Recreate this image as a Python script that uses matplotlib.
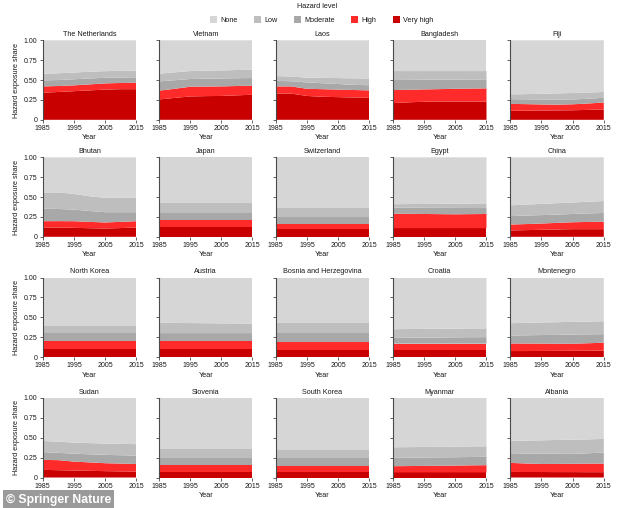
import matplotlib
matplotlib.use("Agg")
import matplotlib.pyplot as plt
from matplotlib.patches import Patch
import numpy as np

plt.rcParams['font.family'] = ['Liberation Sans', 'DejaVu Sans']

years = [1985, 1990, 1995, 2000, 2005, 2010, 2015]
countries = ["The Netherlands", "Vietnam", "Laos", "Bangladesh", "Fiji",
             "Bhutan", "Japan", "Switzerland", "Egypt", "China",
             "North Korea", "Austria", "Bosnia and Herzegovina", "Croatia", "Montenegro",
             "Sudan", "Slovenia", "South Korea", "Myanmar", "Albania"]
levels = ["None", "Low", "Moderate", "High", "Very high"]
level_colors = ["#d6d6d6", "#bebebe", "#a8a8a8", "#ff2a2a", "#c80000"]

very_high = [
    [0.34, 0.35, 0.36, 0.37, 0.38, 0.385, 0.385],
    [0.256, 0.275, 0.294, 0.298, 0.30, 0.308, 0.315],
    [0.33, 0.33, 0.30, 0.29, 0.285, 0.28, 0.276],
    [0.21, 0.22, 0.227, 0.229, 0.23, 0.23, 0.23],
    [0.113, 0.115, 0.116, 0.118, 0.12, 0.125, 0.13],
    [0.117, 0.116, 0.113, 0.108, 0.104, 0.11, 0.117],
    [0.12, 0.12, 0.12, 0.12, 0.12, 0.12, 0.12],
    [0.10, 0.10, 0.10, 0.10, 0.10, 0.10, 0.10],
    [0.108, 0.108, 0.108, 0.108, 0.108, 0.108, 0.108],
    [0.08, 0.084, 0.088, 0.092, 0.096, 0.096, 0.096],
    [0.10, 0.10, 0.10, 0.10, 0.10, 0.10, 0.10],
    [0.10, 0.10, 0.10, 0.10, 0.10, 0.10, 0.10],
    [0.083, 0.083, 0.083, 0.083, 0.083, 0.083, 0.083],
    [0.083, 0.083, 0.083, 0.083, 0.083, 0.083, 0.083],
    [0.075, 0.075, 0.076, 0.077, 0.078, 0.079, 0.08],
    [0.096, 0.092, 0.088, 0.084, 0.08, 0.077, 0.075],
    [0.075, 0.075, 0.075, 0.075, 0.075, 0.075, 0.075],
    [0.07, 0.07, 0.07, 0.07, 0.07, 0.07, 0.07],
    [0.063, 0.063, 0.063, 0.063, 0.063, 0.063, 0.063],
    [0.07, 0.069, 0.069, 0.068, 0.068, 0.067, 0.067],
]
high = [
    [0.08, 0.075, 0.073, 0.075, 0.078, 0.078, 0.081],
    [0.11, 0.115, 0.122, 0.12, 0.12, 0.117, 0.115],
    [0.09, 0.09, 0.09, 0.095, 0.095, 0.095, 0.094],
    [0.164, 0.158, 0.155, 0.157, 0.16, 0.163, 0.165],
    [0.087, 0.082, 0.077, 0.072, 0.075, 0.08, 0.088],
    [0.079, 0.081, 0.083, 0.08, 0.076, 0.078, 0.079],
    [0.09, 0.09, 0.09, 0.09, 0.09, 0.09, 0.09],
    [0.066, 0.066, 0.066, 0.066, 0.066, 0.066, 0.066],
    [0.182, 0.181, 0.179, 0.177, 0.175, 0.177, 0.179],
    [0.074, 0.076, 0.079, 0.083, 0.087, 0.091, 0.094],
    [0.10, 0.10, 0.10, 0.10, 0.10, 0.10, 0.10],
    [0.10, 0.10, 0.10, 0.10, 0.10, 0.10, 0.10],
    [0.107, 0.107, 0.107, 0.107, 0.107, 0.107, 0.107],
    [0.084, 0.084, 0.084, 0.084, 0.084, 0.084, 0.084],
    [0.095, 0.094, 0.092, 0.09, 0.089, 0.094, 0.10],
    [0.126, 0.126, 0.112, 0.106, 0.10, 0.098, 0.095],
    [0.085, 0.085, 0.085, 0.085, 0.085, 0.085, 0.085],
    [0.076, 0.076, 0.076, 0.076, 0.076, 0.076, 0.076],
    [0.079, 0.081, 0.083, 0.085, 0.087, 0.09, 0.092],
    [0.114, 0.107, 0.101, 0.103, 0.104, 0.107, 0.108],
]
moderate = [
    [0.076, 0.075, 0.077, 0.075, 0.07, 0.069, 0.068],
    [0.117, 0.108, 0.097, 0.099, 0.10, 0.098, 0.095],
    [0.07, 0.065, 0.08, 0.075, 0.07, 0.065, 0.065],
    [0.126, 0.124, 0.122, 0.119, 0.116, 0.114, 0.113],
    [0.06, 0.061, 0.063, 0.065, 0.061, 0.06, 0.059],
    [0.158, 0.153, 0.146, 0.137, 0.13, 0.122, 0.114],
    [0.09, 0.09, 0.09, 0.09, 0.09, 0.09, 0.09],
    [0.084, 0.084, 0.084, 0.084, 0.084, 0.084, 0.084],
    [0.077, 0.077, 0.078, 0.079, 0.08, 0.077, 0.075],
    [0.106, 0.107, 0.106, 0.105, 0.104, 0.107, 0.11],
    [0.096, 0.096, 0.096, 0.096, 0.096, 0.096, 0.096],
    [0.096, 0.096, 0.096, 0.096, 0.096, 0.096, 0.096],
    [0.11, 0.11, 0.11, 0.11, 0.11, 0.11, 0.11],
    [0.073, 0.075, 0.077, 0.078, 0.08, 0.082, 0.083],
    [0.10, 0.104, 0.108, 0.112, 0.115, 0.112, 0.107],
    [0.098, 0.092, 0.10, 0.102, 0.105, 0.105, 0.106],
    [0.087, 0.087, 0.087, 0.087, 0.087, 0.087, 0.087],
    [0.094, 0.094, 0.094, 0.094, 0.094, 0.094, 0.094],
    [0.105, 0.105, 0.105, 0.105, 0.105, 0.105, 0.105],
    [0.121, 0.126, 0.129, 0.127, 0.125, 0.131, 0.139],
]
low = [
    [0.084, 0.085, 0.085, 0.085, 0.084, 0.084, 0.084],
    [0.097, 0.099, 0.10, 0.101, 0.102, 0.103, 0.105],
    [0.06, 0.06, 0.06, 0.067, 0.075, 0.082, 0.085],
    [0.113, 0.111, 0.109, 0.108, 0.107, 0.106, 0.105],
    [0.06, 0.065, 0.071, 0.077, 0.081, 0.078, 0.073],
    [0.204, 0.208, 0.198, 0.185, 0.18, 0.18, 0.18],
    [0.12, 0.12, 0.12, 0.12, 0.12, 0.12, 0.12],
    [0.115, 0.115, 0.115, 0.115, 0.115, 0.115, 0.115],
    [0.043, 0.046, 0.048, 0.051, 0.054, 0.056, 0.058],
    [0.136, 0.138, 0.141, 0.143, 0.145, 0.147, 0.15],
    [0.094, 0.094, 0.094, 0.094, 0.094, 0.094, 0.094],
    [0.134, 0.132, 0.131, 0.129, 0.127, 0.126, 0.124],
    [0.125, 0.125, 0.125, 0.125, 0.125, 0.125, 0.125],
    [0.11, 0.11, 0.11, 0.11, 0.11, 0.11, 0.11],
    [0.155, 0.157, 0.158, 0.159, 0.16, 0.161, 0.163],
    [0.14, 0.14, 0.14, 0.141, 0.142, 0.143, 0.144],
    [0.113, 0.113, 0.113, 0.113, 0.113, 0.113, 0.113],
    [0.10, 0.10, 0.10, 0.10, 0.10, 0.10, 0.10],
    [0.133, 0.133, 0.133, 0.133, 0.133, 0.133, 0.133],
    [0.155, 0.162, 0.169, 0.174, 0.179, 0.175, 0.171],
]
x_ticks = [1985, 1995, 2005, 2015]
y_ticks = [0, 0.25, 0.5, 0.75, 1.0]
y_ticklabels = ["0", "0.25", "0.50", "0.75", "1.00"]

W, H = 634, 508
fig = plt.figure(figsize=(W / 100, H / 100), dpi=100)
fig.patch.set_facecolor("white")

col_left = [42.7, 159.0, 275.7, 393.0, 510.3]
row_top = [40.3, 157.3, 277.5, 398.0]
ax_w, ax_h = 93.5, 79.5
txt = "#1a1a1a"
spine_c = "#4a4a4a"

for i, name in enumerate(countries):
    r, c = divmod(i, 5)
    left = col_left[c] / W
    bottom = 1 - (row_top[r] + ax_h) / H
    ax = fig.add_axes([left, bottom, ax_w / W, ax_h / H])
    vh = np.array(very_high[i]); hi = np.array(high[i])
    mo = np.array(moderate[i]); lo = np.array(low[i])
    none = 1 - (vh + hi + mo + lo)
    ax.stackplot(years, vh, hi, mo, lo, none,
                 colors=level_colors[::-1], linewidth=0)
    ax.set_xlim(1985, 2015)
    ax.set_ylim(0, 1)
    ax.set_xticks(x_ticks)
    ax.set_xticklabels([str(t) for t in x_ticks])
    ax.set_yticks(y_ticks)
    if c == 0:
        ax.set_yticklabels(y_ticklabels)
        ax.set_ylabel("Hazard exposure share", fontsize=5.2, color=txt, labelpad=3)
    else:
        ax.set_yticklabels([])
    ax.set_xlabel("Year", fontsize=5.2, color=txt, labelpad=1.8)
    ax.set_title(name, fontsize=5.2, color=txt, pad=3.0)
    for s in ["top", "right", "bottom"]:
        ax.spines[s].set_visible(False)
    ax.spines["left"].set_color(spine_c)
    ax.spines["left"].set_linewidth(0.8)
    ax.tick_params(axis="both", labelsize=5, colors=spine_c, labelcolor=txt,
                   length=2.5, width=0.6, pad=1.2)

fig.text(317 / W, 1 - 6 / H, "Hazard level", fontsize=5.2, color=txt,
         ha="center", va="center")
handles = [Patch(facecolor=col, edgecolor="none") for col in level_colors]
leg = fig.legend(handles, levels, loc="center", bbox_to_anchor=(321.5 / W, 1 - 20 / H),
                 ncol=5, frameon=False, fontsize=5.2,
                 handlelength=1.0, handleheight=1.0,
                 handletextpad=0.45, columnspacing=2.25, borderaxespad=0.0,
                 borderpad=0.0)
for t in leg.get_texts():
    t.set_color(txt)

fig.text(6 / W, 1 - 499.5 / H, "\u00a9 Springer Nature", fontsize=8.8, fontweight="bold",
         color="white", va="center", ha="left",
         bbox=dict(facecolor="#9a9a9a", edgecolor="none",
                   boxstyle="square,pad=0.25"))

fig.savefig("out.png", dpi=100)
